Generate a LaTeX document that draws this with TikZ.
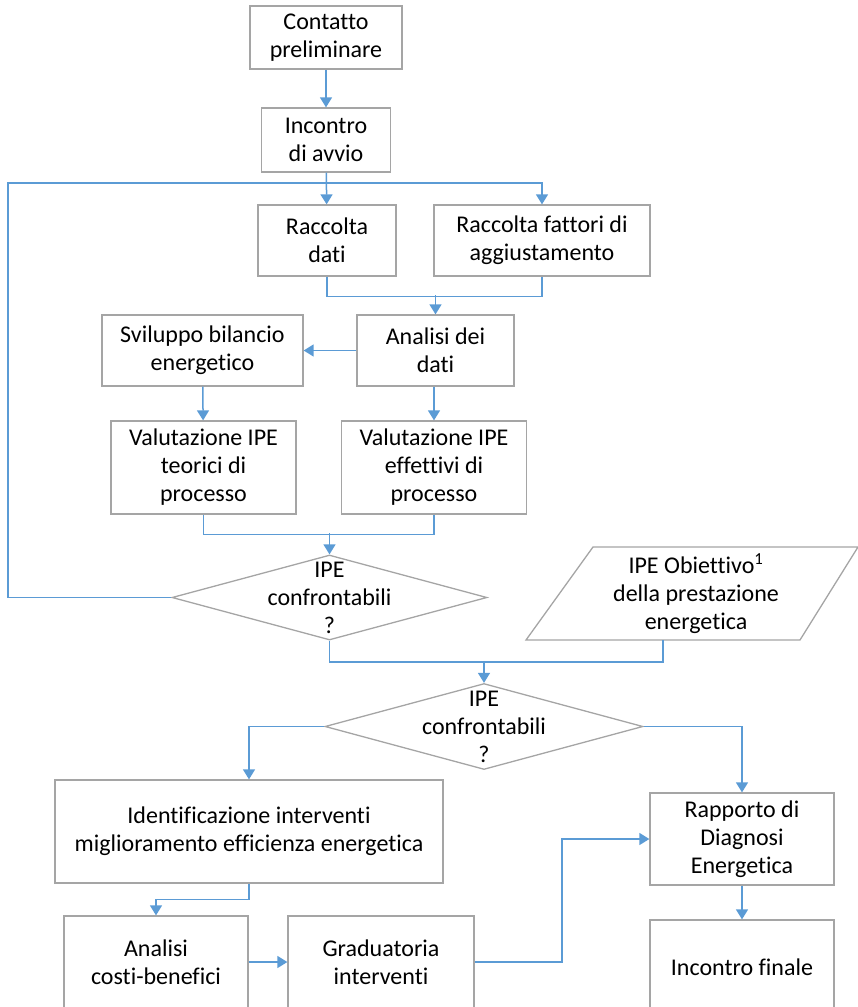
\documentclass[tikz,border=0pt]{standalone}
\usepackage{fontspec}
\setmainfont[Ligatures=NoCommon]{Carlito}
\usepackage{xcolor}
\usepackage{tikz}
\usetikzlibrary{arrows.meta,shapes.geometric}

\definecolor{linkblue}{HTML}{5B9BD5}
\definecolor{boxgray}{HTML}{A5A5A5}

\tikzset{
  box/.style={draw=boxgray, line width=1.3pt, align=center, inner sep=0pt},
  decision/.style={diamond, draw=boxgray, line width=1.3pt, inner sep=0pt},
  link/.style={draw=linkblue, line width=1.5pt},
  flow/.style={link, -{Triangle[width=12pt,length=10pt]}}
}

\begin{document}
\begin{tikzpicture}[x=1pt, y=-1pt, font=\fontsize{24}{28}\selectfont]
	\useasboundingbox (0,0) rectangle (858,1007);
	% boxes
	\node[box, minimum width=152, minimum height=63] (contatto) at (326,37.5) {Contatto\\preliminare};
	\node[box, minimum width=129, minimum height=64] (avvio) at (326,140) {Incontro\\di avvio};
	\node[box, minimum width=138, minimum height=71] (dati) at (327,240.5) {Raccolta\\dati};
	\node[box, minimum width=216, minimum height=71] (fattori) at (542,240.5) {Raccolta fattori di\\aggiustamento};
	\node[box, minimum width=201, minimum height=71] (bilancio) at (202.5,350.5) {Sviluppo bilancio\\energetico};
	\node[box, minimum width=157, minimum height=71] (analisi) at (435.5,350.5) {Analisi dei\\dati};
	\node[box, minimum width=185, minimum height=93] (teorici) at (203.5,467.5) {Valutazione IPE\\teorici di\\processo};
	\node[box, minimum width=185, minimum height=93] (effettivi) at (434,467.5) {Valutazione IPE\\effettivi di\\processo};
	% decisions
	\node[decision, minimum width=315, minimum height=85] (dec1) at (329.5,597.5) {};
	\node[align=center, inner sep=0pt] (dec1txt) at (dec1) {IPE\\confrontabili\\?};
	\node[decision, minimum width=318, minimum height=86] (dec2) at (484,726.5) {};
	\node[align=center, inner sep=0pt] (dec2txt) at (dec2) {IPE\\confrontabili\\?};
	% target input
	\draw[draw=boxgray, line width=1.3pt] (526,640) -- (593,547) -- (858,547) -- (800,640) -- cycle;
	\node[align=center, inner sep=0pt] (obiettivo) at (696,594) {IPE Obiettivo\textsuperscript{1}\\della prestazione\\energetica};
	\coordinate (obout) at (663,640);
	% lower part
	\node[box, minimum width=388, minimum height=103] (interventi) at (249,831.5) {Identificazione interventi\\miglioramento efficienza energetica};
	\node[box, minimum width=184, minimum height=92] (costi) at (156,962) {Analisi\\costi-benefici};
	\node[box, minimum width=186, minimum height=92] (graduatoria) at (381,962) {Graduatoria\\interventi};
	\node[box, minimum width=184, minimum height=92] (rapporto) at (742,839) {Rapporto di\\Diagnosi\\Energetica};
	\node[box, minimum width=184, minimum height=94] (finale) at (742,967) {Incontro finale};

	% connectors
	\draw[flow] (contatto) -- (avvio);
	\draw[flow] (avvio) -- (dati);
	\draw[flow] (dec1.west) -- (8,597.5) -- (8,183) -| (fattori.north);
	\draw[link] (dati.south) -- ++(0,20) -| (fattori.south);
	\draw[flow] (analisi.north) ++(0,-19) -- (analisi.north);
	\draw[flow] (analisi) -- (bilancio);
	\draw[flow] (bilancio) -- (teorici);
	\draw[flow] (analisi.south -| effettivi.north) -- (effettivi.north);
	\draw[link] (teorici.south) -- ++(0,20) -| (effettivi.south);
	\draw[flow] (dec1.north) ++(0,-21) -- (dec1.north);
	\draw[link] (dec1.south) -- (dec1.south |- 0,662) -| (obout);
	\draw[flow] (dec2.north) ++(0,-21) -- (dec2.north);
	\draw[flow] (dec2.west) -| (interventi.north);
	\draw[flow] (dec2.east) -| (rapporto.north);
	\draw[flow] (interventi.south) -- ++(0,16) -| (costi.north);
	\draw[flow] (costi) -- (graduatoria);
	\draw[flow] (graduatoria.east) -- (562,962) |- (rapporto.west);
	\draw[flow] (rapporto) -- (finale);
\end{tikzpicture}
\end{document}
